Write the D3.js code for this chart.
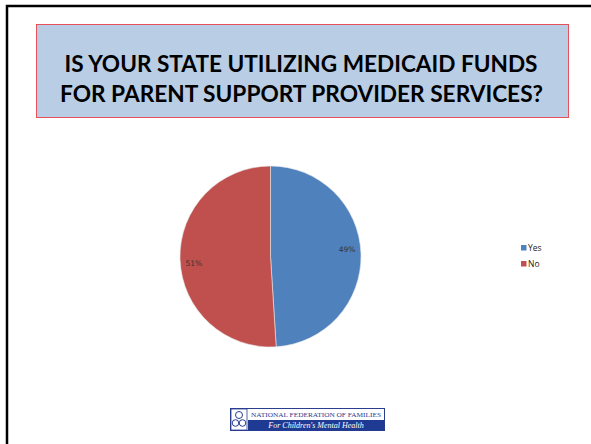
<!DOCTYPE html>
<html><head><meta charset="utf-8">
<script src="https://cdn.jsdelivr.net/npm/d3@7"></script>
<style>html,body{margin:0;padding:0;background:#fff;}svg{display:block;}</style>
</head><body>
<script>
const categories = ["Yes", "No"];
const values = [49, 51];
const labels = ["49%", "51%"];
const colors = ["#4f81bd", "#c0504d"];
const titleLines = ["IS YOUR STATE UTILIZING MEDICAID FUNDS", "FOR PARENT SUPPORT PROVIDER SERVICES?"];

const W = 591, H = 444;
const svg = d3.select("body").append("svg").attr("width", W).attr("height", H);
svg.append("rect").attr("width", W).attr("height", H).attr("fill", "#fff");

// slide frame
svg.append("rect").attr("x", 7).attr("y", 6).attr("width", W + 20).attr("height", H + 20)
  .attr("fill", "none").attr("stroke", "#000").attr("stroke-width", 2.5);

// title box
svg.append("rect").attr("x", 36.5).attr("y", 24.5).attr("width", 532).attr("height", 93)
  .attr("fill", "#b9cde5").attr("stroke", "#e8505a").attr("stroke-width", 1);
const tl = svg.append("g").attr("font-family", "Lato, 'Open Sans', sans-serif")
  .attr("font-weight", "bold").attr("font-size", 23).attr("fill", "#000").attr("text-anchor", "middle");
tl.append("text").attr("x", 301).attr("y", 72).attr("textLength", 473).attr("lengthAdjust", "spacingAndGlyphs").text(titleLines[0]);
tl.append("text").attr("x", 301.5).attr("y", 102).attr("textLength", 483).attr("lengthAdjust", "spacingAndGlyphs").text(titleLines[1]);

// pie
const cx = 270.5, cy = 256.5, r = 90.5;
const data = categories.map((c, i) => ({cat: c, value: values[i], label: labels[i], color: colors[i]}));
const pie = d3.pie().value(d => d.value).sort(null);
const arc = d3.arc().innerRadius(0).outerRadius(r);
const g = svg.append("g").attr("transform", `translate(${cx},${cy})`);
const arcs = pie(data);
g.selectAll("path").data(arcs).join("path")
  .attr("d", arc).attr("fill", d => d.data.color)
  .attr("stroke", "#e6e6e6").attr("stroke-width", 0.6);
const labelPos = d => {
  const a = (d.startAngle + d.endAngle) / 2 - 0.06;
  const rr = r * 0.85;
  return [Math.sin(a) * rr, -Math.cos(a) * rr];
};
g.selectAll("text").data(arcs).join("text")
  .attr("transform", d => `translate(${labelPos(d)})`)
  .attr("text-anchor", "middle").attr("dy", "0.35em")
  .attr("font-family", "'DejaVu Sans', sans-serif").attr("font-size", 7.5).attr("fill", "#333")
  .text(d => d.data.label);

// legend
const lg = svg.append("g").attr("font-family", "'Open Sans', 'DejaVu Sans', sans-serif").attr("font-size", 8.5).attr("fill", "#222");
categories.forEach((c, i) => {
  const y = 245 + i * 16;
  lg.append("rect").attr("x", 521).attr("y", y).attr("width", 5.5).attr("height", 5.5).attr("fill", colors[i]);
  lg.append("text").attr("x", 528).attr("y", y + 6).text(c);
});

// logo
const logo = svg.append("g");
logo.append("rect").attr("x", 230.5).attr("y", 408.5).attr("width", 154).attr("height", 22).attr("fill", "#fff").attr("stroke", "#2a3d8f").attr("stroke-width", 1);
logo.append("rect").attr("x", 248).attr("y", 420).attr("width", 136.5).attr("height", 10.5).attr("fill", "#1f3a93");
logo.append("rect").attr("x", 231).attr("y", 409).attr("width", 16).attr("height", 21).attr("fill", "#fff").attr("stroke", "#2a3d8f").attr("stroke-width", 0.8);
logo.append("circle").attr("cx", 239).attr("cy", 415).attr("r", 3.5).attr("fill", "none").attr("stroke", "#2a3d8f").attr("stroke-width", 1);
logo.append("circle").attr("cx", 235.5).attr("cy", 423).attr("r", 3.3).attr("fill", "none").attr("stroke", "#2a3d8f").attr("stroke-width", 1);
logo.append("circle").attr("cx", 242.5).attr("cy", 423).attr("r", 3.3).attr("fill", "none").attr("stroke", "#2a3d8f").attr("stroke-width", 1);
logo.append("text").attr("x", 316).attr("y", 417).attr("text-anchor", "middle")
  .attr("font-family", "'Liberation Serif', serif").attr("font-size", 7).attr("fill", "#1f3a93")
  .attr("textLength", 130).attr("lengthAdjust", "spacingAndGlyphs").text("NATIONAL FEDERATION OF FAMILIES");
logo.append("text").attr("x", 316).attr("y", 428).attr("text-anchor", "middle")
  .attr("font-family", "'Liberation Serif', serif").attr("font-style", "italic").attr("font-size", 8).attr("fill", "#fff")
  .text("For Children's Mental Health");
</script>
</body></html>
